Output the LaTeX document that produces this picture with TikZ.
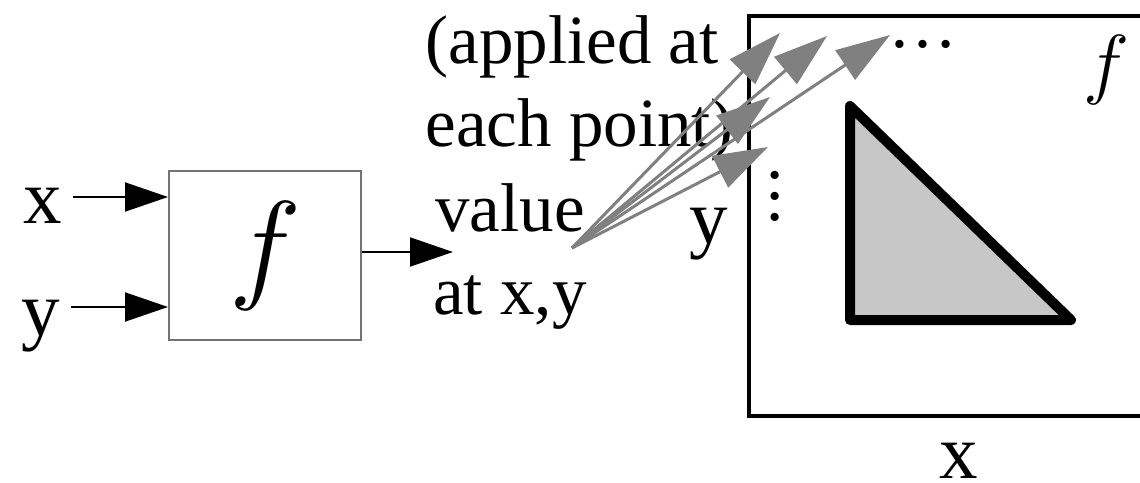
\RequirePackage{fix-cm}
\documentclass[tikz,border=0pt]{standalone}
\usepackage{fontspec}
\setmainfont{Liberation Serif}
\usetikzlibrary{arrows.meta,positioning}

\begin{document}
\begin{tikzpicture}[x=0.5pt,y=-0.5pt,
  txt/.style={inner sep=0pt,font=\fontsize{34.5}{41.5}\selectfont},
  lbl/.style={inner sep=0pt,font=\fontsize{38.5}{44}\selectfont},
  blk/.style={-{Triangle[length=21.5pt,width=14.5pt]},line width=1pt},
  gry/.style={-{Triangle[length=27pt,width=17.5pt]},line width=1.5pt,color=gray}]
\useasboundingbox (0,0) rectangle (1140,482);
% function block
\node[draw=black!55,line width=1pt,minimum width=96pt,minimum height=84.5pt,inner sep=0pt,
  font=\fontsize{61}{61}\selectfont] (boxf) at (265,255.5) {$f$};
\node[lbl,anchor=base] (inx) at (43,223) {x};
\node[lbl,anchor=base] (iny) at (41,335) {y};
\path ([shift={(5pt,13pt)}]inx.base east) coordinate (xs);
\path ([shift={(5pt,14pt)}]iny.base east) coordinate (ys);
\draw[blk] (xs) -- (xs -| boxf.west);
\draw[blk] (ys) -- (ys -| boxf.west);
\coordinate (outtip) at (453,252);
\draw[blk] (boxf.east |- outtip) -- (outtip);
% labels in the middle
\node[txt,align=left,anchor=north west] (note) at (425,15) {(applied at\\each point)};
\node[txt,align=center,anchor=north] (val) at (510,183) {value\\at x,y};
% image frame
\draw[line width=2pt] (1150,16) -- (749,16) -- (749,416) -- (1150,416);
\filldraw[fill=black!22,line width=5pt,line join=round] (850,106) -- (850,320) -- (1071,320) -- cycle;
\node[font=\fontsize{39}{39}\selectfont,inner sep=0pt] (fr) at (1106,70) {$f$};
\node[txt] (hd) at (923,44) {…};
\node[txt,align=center,font=\fontsize{34.5}{10.5}\selectfont] (vd) at (775,196) {.\\.\\.};
\node[lbl,anchor=base] (fy) at (709,243) {y};
\node[lbl,anchor=base] (fx) at (959,478) {x};
% one arrow per point
\coordinate (src) at (572,248);
\foreach \i/\tx/\ty in {1/780/33,2/827/36,3/890/35,4/770/97,5/768/147}{
  \coordinate (t\i) at (\tx,\ty);
  \draw[gry] (src) -- (t\i);
}
\end{tikzpicture}
\end{document}
